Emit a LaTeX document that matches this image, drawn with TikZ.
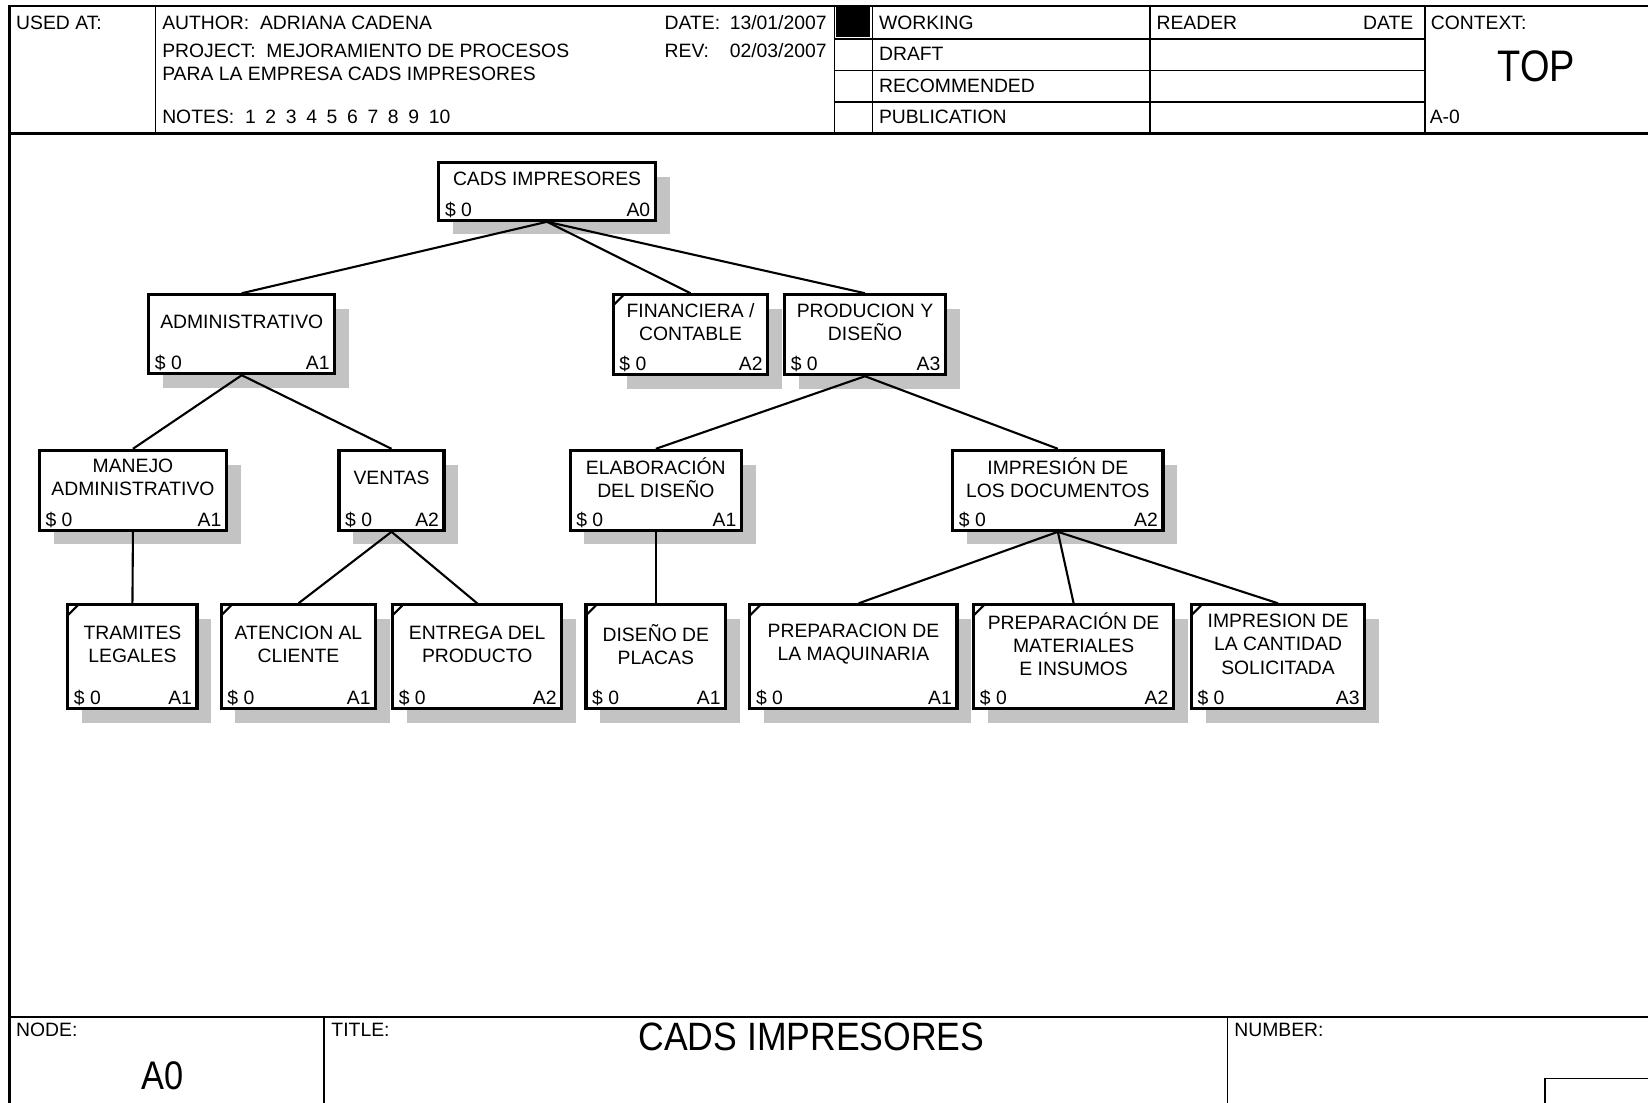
\documentclass[tikz,border=0pt]{standalone}
\usepackage{fontspec}
\setmainfont{Liberation Sans}
\newfontfamily\narrowsans[FakeStretch=0.86]{Liberation Sans}
\newfontfamily\titlesans[FakeStretch=0.9]{Liberation Sans}
\usetikzlibrary{calc}
\pgfdeclarelayer{shadowlayer}
\pgfsetlayers{shadowlayer,main}

\definecolor{shadowgray}{RGB}{195,195,195}

\tikzset{
  frameline/.style={line width=1pt},
  innerline/.style={line width=0.8pt},
  hdr/.style={anchor=west, inner sep=0pt, text height=6.6pt, text depth=0pt,
              font=\fontsize{9.2}{11}\selectfont},
  bigtxt/.style={anchor=center, inner sep=0pt, text height=13.5pt, text depth=0pt},
  fnbox/.style={draw, line width=1.5pt, fill=white, rectangle, inner sep=0pt,
                anchor=north west},
  fnlabel/.style={align=center, inner sep=0pt,
                  font=\fontsize{9.2}{11}\selectfont},
  fntag/.style={inner sep=0pt, text height=6.6pt, text depth=0pt,
                font=\fontsize{9.2}{11}\selectfont},
  link/.style={line width=1pt},
  cornermark/.style={line width=1pt},
}

% activity box: name, x1, y1, x2, y2, label, number, corner mark (1/0)
\newcommand{\actbox}[8]{%
  \pgfmathsetmacro{\bw}{(#4-#2)*0.5}%
  \pgfmathsetmacro{\bh}{(#5-#3)*0.5}%
  \begin{pgfonlayer}{shadowlayer}
    \fill[shadowgray] (#2+15,#3+15) rectangle (#4+15,#5+15);
  \end{pgfonlayer}
  \node[fnbox, minimum width=\bw pt, minimum height=\bh pt] (#1) at (#2,#3) {};
  \node[fnlabel] (#1-lbl) at ($(#1.center)+(0,-12)$) {#6};
  \node[fntag, anchor=west] (#1-cost) at ($(#1.south west)+(7,-12)$) {\$ 0};
  \node[fntag, anchor=east] (#1-num) at ($(#1.south east)+(-6,-12)$) {#7};
  \ifnum#8=1
    \draw[cornermark] ($(#1.north west)+(1,12)$) -- ($(#1.north west)+(12,1)$);
  \fi
}
\newcommand{\ns}{\hspace{4.6pt}}

\begin{document}
\begin{tikzpicture}[x=0.5pt, y=-0.5pt]
\useasboundingbox (0,0) rectangle (1568,1049);
\clip (0,0) rectangle (1568,1049);

% ---- outer frame and header grid ----
\draw[frameline] (1580,6) -- (9,6) -- (9,1060);
\draw[frameline] (9,127) -- (1580,127);
\draw[innerline] (148,6) -- (148,127);
\draw[innerline] (794,6) -- (794,127);
\draw[innerline] (830,6) -- (830,127);
\draw[innerline] (1094,6) -- (1094,127);
\draw[innerline] (1356,6) -- (1356,127);
\draw[innerline] (794,37) -- (1356,37);
\draw[innerline] (794,67) -- (1356,67);
\draw[innerline] (794,97) -- (1356,97);
\fill[black] (795,7) rectangle (828,35);

% ---- header texts ----
\node[hdr] (usedat) at (15,21) {USED AT:};
\node[hdr] (author) at (154,21) {AUTHOR:\ \ ADRIANA CADENA};
\node[hdr] (project) at (154,48) {PROJECT:\ \ MEJORAMIENTO DE PROCESOS};
\node[hdr] (project2) at (154,70) {PARA LA EMPRESA CADS IMPRESORES};
\node[hdr] (notes) at (154,111) {NOTES:\ \ 1\ns 2\ns 3\ns 4\ns 5\ns 6\ns 7\ns 8\ns 9\ns 10};
\node[hdr] (datelbl) at (632,21) {DATE:};
\node[hdr] (dateval) at (694,21) {13/01/2007};
\node[hdr] (revlbl) at (632,48) {REV:};
\node[hdr] (revval) at (694,48) {02/03/2007};
\node[hdr] (working) at (836,21) {WORKING};
\node[hdr] (draft) at (836,51) {DRAFT};
\node[hdr] (recommended) at (836,81) {RECOMMENDED};
\node[hdr] (publication) at (836,111) {PUBLICATION};
\node[hdr] (reader) at (1100,21) {READER};
\node[hdr, anchor=east] (readerdate) at (1345,21) {DATE};
\node[hdr] (context) at (1361,21) {CONTEXT:};
\node[bigtxt, text height=15pt, font=\narrowsans\fontsize{21}{24}\selectfont] (top) at (1462,63) {TOP};
\node[hdr] (aminus) at (1360,111) {A-0};

% ---- footer grid ----
\draw[frameline] (9,968) -- (1580,968);
\draw[innerline] (308,968) -- (308,1060);
\draw[innerline] (1168,968) -- (1168,1060);
\draw[innerline] (1580,1026) -- (1470,1026) -- (1470,1060);

% ---- footer texts ----
\node[hdr] (nodelbl) at (15,980) {NODE:};
\node[hdr] (titlelbl) at (315,980) {TITLE:};
\node[hdr] (numberlbl) at (1174,980) {NUMBER:};
\node[bigtxt, font=\narrowsans\fontsize{19}{22}\selectfont] (nodeval) at (155,1023) {A0};
\node[bigtxt, font=\titlesans\fontsize{18.8}{22}\selectfont] (titleval) at (772,986) {CADS IMPRESORES};

% ---- activity boxes ----
\actbox{a0}{416}{153}{622}{208}{CADS IMPRESORES}{A0}{0}
\actbox{a1}{140}{279}{317}{354}{ADMINISTRATIVO}{A1}{0}
\actbox{a2}{582}{279}{729}{355}{FINANCIERA /\\CONTABLE}{A2}{1}
\actbox{a3}{745}{279}{898}{355}{PRODUCION Y\\DISEÑO}{A3}{0}
\actbox{a11}{36}{427}{214}{503}{MANEJO\\ADMINISTRATIVO}{A1}{0}
\actbox{a12}{321}{427}{421}{503}{VENTAS}{A2}{0}
\actbox{a31}{541}{427}{704}{503}{ELABORACIÓN\\DEL DISEÑO}{A1}{0}
\actbox{a32}{905}{427}{1105}{503}{IMPRESIÓN DE\\LOS DOCUMENTOS}{A2}{0}
\actbox{a111}{63}{574}{186}{673}{TRAMITES\\LEGALES}{A1}{1}
\actbox{a121}{209}{574}{356}{673}{ATENCION AL\\CLIENTE}{A1}{1}
\actbox{a122}{372}{574}{533}{673}{ENTREGA DEL\\PRODUCTO}{A2}{1}
\actbox{a311}{556}{574}{689}{673}{DISEÑO DE\\PLACAS}{A1}{1}
\actbox{a321}{712}{574}{909}{673}{PREPARACION DE\\LA MAQUINARIA}{A1}{1}
\actbox{a322}{925}{574}{1115}{673}{PREPARACIÓN DE\\MATERIALES\\E INSUMOS}{A2}{1}
\actbox{a323}{1132}{574}{1297}{673}{IMPRESION DE\\LA CANTIDAD\\SOLICITADA}{A3}{1}

% ---- decomposition links ----
\draw[link] (a0.south) -- (a1.north);
\draw[link] (a0.south) -- (a2.north);
\draw[link] (a0.south) -- (a3.north);
\draw[link] (a1.south) -- (a11.north);
\draw[link] (a1.south) -- (a12.north);
\draw[link] (a3.south) -- (a31.north);
\draw[link] (a3.south) -- (a32.north);
\draw[link] (a11.south) -- (a111.north);
\draw[link] (a12.south) -- (a121.north);
\draw[link] (a12.south) -- (a122.north);
\draw[link] (a31.south) -- (a311.north);
\draw[link] (a32.south) -- ($(a321.north)+(5,0)$);
\draw[link] (a32.south) -- (a322.north);
\draw[link] (a32.south) -- (a323.north);
\end{tikzpicture}
\end{document}
